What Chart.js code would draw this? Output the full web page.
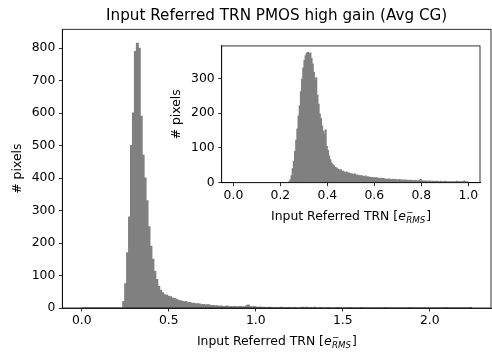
<!DOCTYPE html>
<html>
<head>
<meta charset="utf-8">
<script src="https://cdn.jsdelivr.net/npm/chart.js@4.4.0/dist/chart.umd.min.js"></script>
<style>
  body { margin: 0; background: #fff; }
  #wrap { position: relative; width: 492px; height: 354px; }
  #mainChart { position: absolute; left: 0; top: 0; }
  #insetChart { position: absolute; left: 160px; top: 35px; }
</style>
</head>
<body>
<div id="wrap">
  <canvas id="mainChart" width="492" height="354"></canvas>
  <canvas id="insetChart" width="332" height="195"></canvas>
</div>
<script>
// histogram data
// main: 200 bins from 0 to 2.24
const mainBinStart = 0;
const mainBinWidth = 0.0112;
const mainCounts = [
  0,0,0,0,0,0,0,0,0,0,
  0,0,0,0,0,0,0,0,0,0,
  0,20,75,170,280,500,600,790,815,800,
  590,470,400,330,250,190,150,112,88,66,
  55,47,41,39,36,35,31,29,27,24,
  22,21,19,20,16,17,14,15,12,13,
  12,10,11,9,10,9,7,8,6,7,
  5,6,5,5,6,4,5,4,5,3,
  4,5,3,4,6,9,4,3,4,3,
  1,3,1,2,1,1,2,1,0,1,
  0,1,2,0,1,0,1,0,0,1,
  0,0,1,2,0,2,0,1,0,2,
  0,0,1,0,0,0,1,0,0,0,
  0,1,0,0,0,0,0,1,0,0,
  0,0,0,1,0,0,0,0,0,0,
  0,0,0,0,0,1,0,0,0,0,
  0,0,0,0,0,0,0,0,1,0,
  0,0,0,0,0,0,0,0,0,0,
  0,0,0,0,0,0,1,0,0,0,
  0,0,0,0,0,0,0,0,0,1
];

// inset: 200 bins from 0 to 1
const insetBinStart = 0;
const insetBinWidth = 0.005;
const insetCounts = [
  0,0,0,0,0,0,0,0,0,0,
  0,0,0,0,0,0,0,0,0,0,
  0,0,0,0,0,0,0,0,0,0,
  0,0,0,0,0,0,0,0,0,0,
  0,0,0,0,0,0,0,3,8,20,
  40,62,90,122,155,192,222,262,298,330,
  352,366,373,375,370,374,358,342,318,296,
  302,252,226,198,185,163,148,138,152,104,
  93,77,66,57,52,49,44,43,40,38,
  35,37,32,33,30,29,31,27,28,25,
  26,24,23,25,21,22,20,21,19,20,
  18,17,19,16,17,15,16,14,15,13,
  14,12,14,12,11,13,11,12,10,11,
  9,10,11,9,8,10,9,8,9,7,
  8,9,7,8,6,7,8,6,7,5,
  6,7,5,6,5,6,4,5,6,10,
  5,4,5,4,5,3,4,5,3,4,
  3,4,3,4,3,2,4,3,2,3,
  4,2,3,2,3,2,3,2,3,2,
  4,2,3,2,3,2,5,2,3,2
];

const mainXTicks = [0, 0.5, 1.0, 1.5, 2.0];
const mainYTicks = [0, 100, 200, 300, 400, 500, 600, 700, 800];
const insetXTicks = [0, 0.2, 0.4, 0.6, 0.8, 1.0];
const insetYTicks = [0, 100, 200, 300];

const FONT = '"DejaVu Sans", sans-serif';
const FS = 12.4;      // tick + axis label size
const TITLE_FS = 15.2;

function toBars(counts, start, width) {
  return counts.map((c, i) => ({ x: start + (i + 0.5) * width, y: c }));
}

// x label with e^-_{RMS} like matplotlib mathtext
function drawMathLabel(ctx, cx, cy, size) {
  const small = size * 0.7;
  const fNorm = size + 'px ' + FONT;
  const fItal = 'italic ' + size + 'px ' + FONT;
  const fSup = small + 'px ' + FONT;
  const fSub = 'italic ' + small + 'px ' + FONT;
  const t1 = 'Input Referred TRN [';
  ctx.font = fNorm;
  const w1 = ctx.measureText(t1).width;
  const w4 = ctx.measureText(']').width;
  ctx.font = fItal;
  const w2 = ctx.measureText('e').width;
  ctx.font = fSub;
  const wSub = ctx.measureText('RMS').width;
  ctx.font = fSup;
  const wSup = ctx.measureText('\u2212').width;
  const w3 = Math.max(wSub, wSup) + 1;
  let x = cx - (w1 + w2 + w3 + w4) / 2;
  const base = cy + size * 0.36;
  ctx.fillStyle = '#000';
  ctx.textAlign = 'left';
  ctx.textBaseline = 'alphabetic';
  ctx.font = fNorm;
  ctx.fillText(t1, x, base);
  x += w1;
  ctx.font = fItal;
  ctx.fillText('e', x, base);
  x += w2 + 0.5;
  ctx.font = fSup;
  ctx.fillText('\u2212', x, base - size * 0.42);
  ctx.font = fSub;
  ctx.fillText('RMS', x, base + size * 0.22);
  x += w3;
  ctx.font = fNorm;
  ctx.fillText(']', x, base);
}

const decorations = {
  id: 'decorations',
  beforeDraw(chart, args, opts) {
    if (opts.fillArea) {
      const a = chart.chartArea;
      const ctx = chart.ctx;
      ctx.save();
      ctx.fillStyle = '#fff';
      ctx.fillRect(a.left, a.top, a.right - a.left, a.bottom - a.top);
      ctx.restore();
    }
  },
  afterDraw(chart, args, opts) {
    const a = chart.chartArea;
    const ctx = chart.ctx;
    ctx.save();
    ctx.strokeStyle = '#000';
    ctx.lineWidth = 0.8;
    ctx.strokeRect(a.left, a.top, a.right - a.left, a.bottom - a.top);

    if (opts.title) {
      ctx.fillStyle = '#000';
      ctx.font = TITLE_FS + 'px ' + FONT;
      ctx.textAlign = 'center';
      ctx.textBaseline = 'alphabetic';
      ctx.fillText(opts.title, (a.left + a.right) / 2, a.top - 9);
    }
    // y label
    ctx.save();
    ctx.translate(a.left - 45, (a.top + a.bottom) / 2);
    ctx.rotate(-Math.PI / 2);
    ctx.fillStyle = '#000';
    ctx.font = FS + 'px ' + FONT;
    ctx.textAlign = 'center';
    ctx.textBaseline = 'middle';
    ctx.fillText('# pixels', 0, 0);
    ctx.restore();
    // x label
    drawMathLabel(ctx, (a.left + a.right) / 2, a.bottom + 33, FS);
    ctx.restore();
  }
};

function axisX(min, max, ticks, height) {
  return {
    type: 'linear', min: min, max: max, offset: false,
    afterBuildTicks: s => { s.ticks = ticks.map(v => ({ value: v })); },
    afterFit: s => { s.height = height; },
    ticks: {
      callback: v => Number(v).toFixed(1),
      color: '#000', font: { family: FONT, size: FS },
      padding: 2, maxRotation: 0, autoSkip: false
    },
    grid: { offset: false, drawOnChartArea: false, tickLength: 3.5, tickColor: '#000', tickWidth: 0.8 },
    border: { color: '#000', width: 0.8 }
  };
}

function axisY(max, ticks, width) {
  return {
    type: 'linear', min: 0, max: max,
    afterBuildTicks: s => { s.ticks = ticks.map(v => ({ value: v })); },
    afterFit: s => { s.width = width; },
    ticks: {
      callback: v => String(v),
      color: '#000', font: { family: FONT, size: FS },
      padding: 3.5, autoSkip: false
    },
    grid: { drawOnChartArea: false, tickLength: 3.5, tickColor: '#000', tickWidth: 0.8 },
    border: { color: '#000', width: 0.8 }
  };
}

function barDataset(counts, start, width) {
  return {
    data: toBars(counts, start, width),
    backgroundColor: '#808080',
    borderWidth: 0,
    inflateAmount: 0.5,
    barPercentage: 1,
    categoryPercentage: 1
  };
}

new Chart(document.getElementById('mainChart'), {
  type: 'bar',
  data: { datasets: [barDataset(mainCounts, mainBinStart, mainBinWidth)] },
  options: {
    responsive: false,
    animation: false,
    devicePixelRatio: 1,
    layout: { padding: { top: 29.3, right: 1, bottom: 0, left: 0 } },
    scales: {
      x: axisX(-0.112, 2.352, mainXTicks, 46),
      y: axisY(858, mainYTicks, 62.3)
    },
    plugins: {
      legend: { display: false },
      tooltip: { enabled: false },
      decorations: { title: 'Input Referred TRN PMOS high gain (Avg CG)' }
    }
  },
  plugins: [decorations]
});

new Chart(document.getElementById('insetChart'), {
  type: 'bar',
  data: { datasets: [barDataset(insetCounts, insetBinStart, insetBinWidth)] },
  options: {
    responsive: false,
    animation: false,
    devicePixelRatio: 1,
    layout: { padding: { top: 6.7, right: 12, bottom: 0, left: 0 } },
    scales: {
      x: axisX(-0.05, 1.05, insetXTicks, 47.3),
      y: axisY(394, insetYTicks, 61.7)
    },
    plugins: {
      legend: { display: false },
      tooltip: { enabled: false },
      decorations: { fillArea: true }
    }
  },
  plugins: [decorations]
});
</script>
</body>
</html>
